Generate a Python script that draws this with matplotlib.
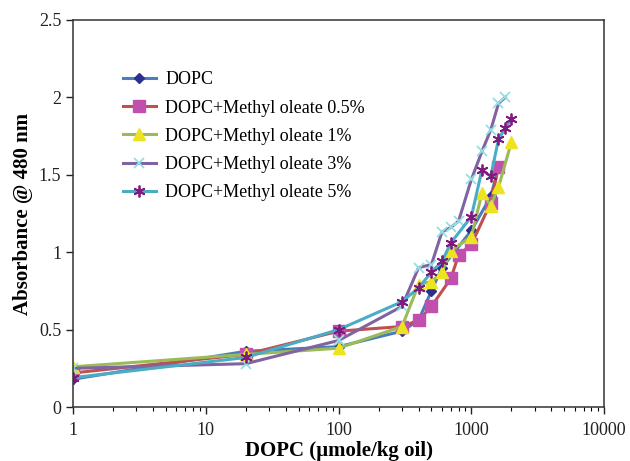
import matplotlib
matplotlib.use('Agg')
import matplotlib.pyplot as plt
from matplotlib.ticker import LogLocator, FixedLocator, NullFormatter

plt.rcParams['font.family'] = ['Liberation Serif', 'DejaVu Serif']

# data
x_dopc = [1, 20, 100, 300, 400, 500, 600, 1000, 1400, 1600]
y_dopc = [0.18, 0.36, 0.39, 0.49, 0.56, 0.75, 0.90, 1.14, 1.36, 1.55]

x_mo05 = [1, 20, 100, 300, 400, 500, 700, 800, 1000, 1400, 1600]
y_mo05 = [0.22, 0.34, 0.49, 0.52, 0.56, 0.65, 0.83, 0.98, 1.05, 1.32, 1.55]

x_mo1 = [1, 20, 100, 300, 400, 500, 600, 700, 1000, 1200, 1400, 1600, 2000]
y_mo1 = [0.26, 0.34, 0.38, 0.52, 0.79, 0.81, 0.87, 1.01, 1.10, 1.38, 1.30, 1.42, 1.71]

x_mo3 = [1, 20, 100, 300, 400, 500, 600, 700, 800, 1000, 1200, 1400, 1600, 1800]
y_mo3 = [0.25, 0.28, 0.43, 0.65, 0.90, 0.92, 1.13, 1.16, 1.20, 1.47, 1.65, 1.79, 1.96, 2.00]

x_mo5 = [1, 20, 100, 300, 400, 500, 600, 700, 1000, 1200, 1400, 1600, 1800, 2000]
y_mo5 = [0.19, 0.32, 0.50, 0.68, 0.77, 0.87, 0.94, 1.06, 1.23, 1.53, 1.49, 1.73, 1.80, 1.86]

labels = ['DOPC', 'DOPC+Methyl oleate 0.5%', 'DOPC+Methyl oleate 1%',
          'DOPC+Methyl oleate 3%', 'DOPC+Methyl oleate 5%']

fig = plt.figure(figsize=(6.3, 4.61), dpi=100)
ax = fig.add_axes([0.116, 0.117, 0.843, 0.840])

ax.plot(x_dopc, y_dopc, color='#4a7ebb', lw=2.2, marker='D', ms=5.5,
        mfc='#2b2f8f', mec='#2b2f8f', label=labels[0])
ax.plot(x_mo05, y_mo05, color='#c0504d', lw=2.2, marker='s', ms=8,
        mfc='#c14fae', mec='#c14fae', label=labels[1])
ax.plot(x_mo1, y_mo1, color='#9bbb59', lw=2.2, marker='^', ms=8.5,
        mfc='#ece41e', mec='#ece41e', label=labels[2])
ax.plot(x_mo3, y_mo3, color='#8064a2', lw=2.2, marker='x', ms=7.5, mew=1.3,
        mfc='#93e0e3', mec='#93e0e3', label=labels[3])
ax.plot(x_mo5, y_mo5, color='#4bacc6', lw=2.2, marker=(6, 2, 0), ms=8.5, mew=1.3,
        mfc='#7f1a7f', mec='#7f1a7f', label=labels[4])

ax.set_xscale('log')
ax.set_xlim(1, 10000)
ax.set_ylim(0, 2.5)
ax.set_yticks([0, 0.5, 1, 1.5, 2, 2.5])
ax.set_yticklabels(['0', '0.5', '1', '1.5', '2', '2.5'])
ax.xaxis.set_major_locator(FixedLocator([1, 10, 100, 1000, 10000]))
ax.set_xticklabels(['1', '10', '100', '1000', '10000'])
ax.xaxis.set_minor_locator(LogLocator(base=10, subs=range(2, 10)))
ax.xaxis.set_minor_formatter(NullFormatter())

ax.tick_params(axis='both', which='major', direction='out', length=5,
               width=1, labelsize=13, colors='#222222')
ax.tick_params(axis='x', which='minor', direction='out', length=3, width=0.8)
ax.tick_params(axis='x', pad=6)
for s in ax.spines.values():
    s.set_linewidth(1.1)
    s.set_color('#333333')

ax.set_xlabel('DOPC (µmole/kg oil)', fontsize=15, fontweight='bold', labelpad=1)
ax.set_ylabel('Absorbance @ 480 nm', fontsize=15, fontweight='bold', labelpad=4)

ax.legend(loc='upper left', bbox_to_anchor=(0.094, 0.867), frameon=False,
          fontsize=13, handlelength=1.8, labelspacing=0.62, handletextpad=0.55,
          borderpad=0, borderaxespad=0)

fig.savefig('out.png', dpi=100)
